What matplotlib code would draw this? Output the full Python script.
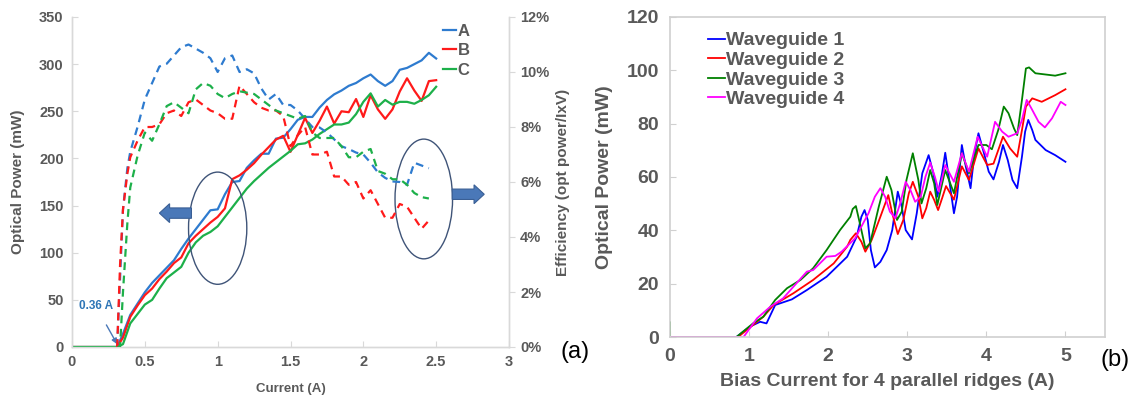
import matplotlib
matplotlib.use("Agg")
import matplotlib.pyplot as plt
from matplotlib.patches import Ellipse, FancyArrow

plt.rcParams['font.family'] = ['Liberation Sans', 'DejaVu Sans']

GRAY = '#595959'

# ---------------- Panel (a) data ----------------
current_a = [0.00, 0.31, 0.35, 0.40, 0.45, 0.50, 0.55, 0.60, 0.65, 0.70, 0.75, 0.80, 0.85, 0.90,
             0.95, 1.00, 1.05, 1.10, 1.15, 1.20, 1.25, 1.30, 1.35, 1.40, 1.45, 1.50, 1.55, 1.60,
             1.65, 1.70, 1.75, 1.80, 1.85, 1.90, 1.95, 2.00, 2.05, 2.10, 2.15, 2.20, 2.25, 2.30,
             2.35, 2.40, 2.45, 2.50]
power_A = [0, 0, 14, 34, 46, 58, 68, 76, 84, 92, 104, 115, 125, 135, 145, 146, 162, 175, 176, 190,
           198, 205, 205, 221, 222, 231, 241, 244, 244, 254, 262, 268, 272, 277, 280, 285, 289, 282,
           277, 282, 294, 296, 300, 304, 312, 306]
power_B = [0, 0, 10, 32, 44, 55, 62, 72, 80, 89, 95, 110, 118, 125, 132, 138, 147, 178, 182, 188,
           195, 204, 212, 220, 224, 207, 225, 243, 227, 240, 255, 237, 250, 249, 263, 244, 267, 252,
           242, 252, 271, 285, 272, 261, 282, 283]
power_C = [0, 0, 3, 25, 35, 45, 50, 62, 73, 79, 85, 100, 111, 118, 122, 128, 138, 148, 158, 168,
           176, 183, 190, 196, 202, 208, 215, 216, 220, 226, 231, 236, 236, 238, 247, 260, 269, 255,
           262, 257, 260, 260, 258, 262, 267, 276]

eff_current = [0.31, 0.33, 0.35, 0.38, 0.40, 0.45, 0.50, 0.55, 0.60, 0.65, 0.70, 0.75, 0.80, 0.85,
               0.90, 0.95, 1.00, 1.05, 1.10, 1.15, 1.20, 1.25, 1.30, 1.35, 1.40, 1.45, 1.50, 1.55,
               1.60, 1.65, 1.70, 1.75, 1.80, 1.85, 1.90, 1.95, 2.00, 2.05, 2.10, 2.15, 2.20, 2.25,
               2.30, 2.35, 2.40, 2.45]
eff_A = [0, 2.5, 5.0, 6.5, 7.1,
         8.0, 9.0, 9.6, 10.2, 10.3, 10.6, 10.9, 11.0, 10.85, 10.7, 10.5, 10.0, 10.5, 10.6, 10.0,
         10.1, 9.95, 9.4, 9.0, 9.2, 8.8, 8.8, 8.6, 8.3, 8.0, 7.98, 7.8, 7.55, 7.3, 7.2,
         7.07, 7.0, 6.7, 6.35, 6.15, 6.02, 6.0, 5.9, 6.7, 6.6, 6.5]
eff_B = [0, 3.0, 5.0, 6.3, 6.9,
         7.5, 8.0, 8.0, 8.1, 8.5, 8.6, 8.4, 8.9, 9.0, 8.8, 8.6, 8.5, 8.3, 8.3, 9.5,
         9.2, 8.9, 8.7, 8.6, 8.6, 8.4, 7.3, 7.7, 8.0, 7.0, 7.0, 7.1, 6.2, 6.2, 5.9,
         6.0, 5.4, 5.7, 5.2, 4.7, 4.7, 5.2, 5.1, 4.7, 4.3, 4.6]
eff_C = [0, 0, 2.0, 4.5, 5.8,
         6.95, 7.8, 7.5, 8.1, 8.76, 8.9, 8.7, 8.5, 9.37, 9.6, 9.5, 9.2, 9.05, 9.2, 9.3,
         9.25, 9.2, 9.0, 8.8, 8.6, 8.5, 8.4, 8.3, 8.4, 7.8, 7.6, 7.6, 7.6, 7.3, 6.9,
         6.9, 7.1, 7.2, 6.4, 6.3, 6.1, 6.1, 5.9, 5.6, 5.45, 5.4]

labels_a = ['A', 'B', 'C']
colors_a = ['#2e7bcf', '#ff1a1a', '#1db04a']
xticks_a = [0, 0.5, 1, 1.5, 2, 2.5, 3]
xticklabels_a = ['0', '0.5', '1', '1.5', '2', '2.5', '3']
yticks_a = [0, 50, 100, 150, 200, 250, 300, 350]
yticks_eff = [0, 2, 4, 6, 8, 10, 12]

# ---------------- Panel (b) data ----------------
wg1_x = [0, 0.84, 1.01, 1.14, 1.22, 1.33, 1.54, 1.73, 1.98, 2.24, 2.36, 2.42, 2.46, 2.50, 2.54,
         2.59, 2.66, 2.74, 2.81, 2.88, 2.93, 2.98, 3.06, 3.12, 3.19, 3.27, 3.33, 3.38, 3.44, 3.48,
         3.53, 3.59, 3.63, 3.69, 3.74, 3.80, 3.85, 3.90, 3.97, 4.03, 4.09, 4.16, 4.21, 4.27, 4.33,
         4.39, 4.45, 4.49, 4.53, 4.58, 4.62, 4.75, 4.87, 5.0]
wg1_y = [0, 0, 3.9, 5.7, 5.1, 12, 14.1, 17.6, 22.6, 30.1, 37.6, 45.1, 47.6, 43.9, 32.6,
         26.1, 28.2, 32.6, 40.1, 54.5, 48.9, 40.1, 36.6, 46.4, 61.4, 68.2, 61.4, 52.6, 61.4, 69.1,
         58.9, 46.4, 52.6, 72, 63.9, 55.8, 68.9, 76.4, 68.9, 62, 59.1, 65.7, 72, 66.4, 58.9,
         55.8, 67.6, 77, 81.4, 77.6, 73.9, 70.1, 68.2, 65.7]
wg2_x = [0, 0.86, 1.05, 1.18, 1.31, 1.56, 1.81, 2.07, 2.24, 2.28, 2.35, 2.42, 2.47, 2.55, 2.66,
         2.76, 2.81, 2.88, 2.95, 3.02, 3.07, 3.14, 3.19, 3.24, 3.29, 3.34, 3.39, 3.44, 3.49, 3.59,
         3.69, 3.78, 3.90, 4.01, 4.09, 4.21, 4.30, 4.39, 4.45, 4.50, 4.58, 4.70, 4.87, 5.0]
wg2_y = [0, 0, 4.5, 7.6, 12, 16.4, 21.4, 27.6, 33.9, 36.4, 38.9, 35.7, 32, 36.4, 45.1,
         53.2, 46.4, 38.6, 43.9, 53.9, 58.2, 52.6, 44.5, 48.3, 54.5, 51.4, 47.6, 52, 56.6, 51.5,
         64, 58.9, 70.7, 64.5, 65, 75.1, 70.7, 67.6, 77.6, 86.4, 89.5, 88.2, 90.7, 92.9]
wg3_x = [0, 0, 0.84, 1.05, 1.18, 1.33, 1.48, 1.65, 1.81, 1.98, 2.15, 2.28, 2.31, 2.35, 2.41,
         2.47, 2.53, 2.64, 2.74, 2.80, 2.87, 2.93, 2.99, 3.07, 3.14, 3.18, 3.24, 3.29, 3.34, 3.38,
         3.48, 3.59, 3.69, 3.78, 3.90, 4.00, 4.07, 4.15, 4.22, 4.28, 4.35, 4.39, 4.45, 4.50, 4.54,
         4.62, 4.87, 5.0]
wg3_y = [5.5, 0, 0, 5.1, 7.6, 13.9, 18.3, 21.4, 25.8, 32.6, 40.1, 45.1, 48, 49.1, 41.4,
         33.3, 35.1, 48.9, 60.1, 55.1, 43.9, 47, 58.9, 68.9, 58.9, 50.1, 55.8, 62.6, 57.6, 49.5,
         62.6, 53.9, 68.9, 61.4, 72, 72, 70.4, 77.6, 86.4, 83.9, 78.2, 75.7, 88.9, 100.7, 101.1,
         98.9, 98, 98.9]
wg4_x = [0, 0.93, 1.10, 1.27, 1.43, 1.73, 1.81, 1.98, 2.09, 2.17, 2.34, 2.51, 2.59, 2.66, 2.72,
         2.78, 2.85, 2.91, 2.98, 3.04, 3.10, 3.17, 3.23, 3.29, 3.35, 3.40, 3.48, 3.59, 3.69, 3.78,
         3.89, 4.01, 4.11, 4.20, 4.28, 4.39, 4.45, 4.51, 4.57, 4.66, 4.74, 4.83, 4.94, 5.0]
wg4_y = [0, 0, 7, 11.4, 14.5, 24.5, 25.1, 30.1, 30.4, 32, 37, 46.4, 52.6, 55.8, 52.6,
         47, 44.5, 50.1, 58.2, 55.1, 50.7, 52.6, 60.1, 65.4, 60, 54.5, 64.5, 58.2, 68.9, 62,
         75.1, 67.6, 80.7, 77, 75.1, 76.4, 81.4, 88.9, 85.7, 80.7, 78.6, 82, 88.2, 87]
labels_b = ['Waveguide 1', 'Waveguide 2', 'Waveguide 3', 'Waveguide 4']
colors_b = ['#0000ff', '#ff0000', '#008000', '#ff00ff']
xticks_b = [0, 1, 2, 3, 4, 5]
yticks_b = [0, 20, 40, 60, 80, 100, 120]

# ---------------- Figure ----------------
fig = plt.figure(figsize=(11.35, 4.01), dpi=100)

# Panel (a)
ax = fig.add_axes([72/1135, 54/401, 437/1135, 330/401])
ax2 = ax.twinx()
for y, c, lab in zip([power_A, power_B, power_C], colors_a, labels_a):
    ax.plot(current_a, y, color=c, lw=1.6, label=lab, zorder=3)
for y, c in zip([eff_A, eff_B, eff_C], colors_a):
    ax2.plot(eff_current, y, color=c, lw=1.6, linestyle=(0, (3.5, 2.5)), zorder=3)

ax.set_xlim(0, 3)
ax.set_ylim(0, 350)
ax2.set_ylim(0, 12)
ax.set_xticks(xticks_a)
ax.set_xticklabels(xticklabels_a)
ax.set_yticks(yticks_a)
ax2.set_yticks(yticks_eff)
ax2.set_yticklabels([f'{v}%' for v in yticks_eff])

for a in (ax, ax2):
    for s in a.spines.values():
        s.set_color('#d9d9d9')
        s.set_linewidth(1.0)
    a.spines['top'].set_visible(False)
ax.tick_params(axis='both', direction='in', length=4, color='#d9d9d9',
               labelsize=10.5, labelcolor=GRAY, pad=6)
ax2.tick_params(axis='y', direction='out', length=4, color='#d9d9d9',
                labelsize=10.5, labelcolor=GRAY, pad=4)
for lbl in ax.get_xticklabels() + ax.get_yticklabels() + ax2.get_yticklabels():
    lbl.set_fontweight('bold')

ax.set_xlabel('Current (A)', fontsize=9.5, fontweight='bold', color=GRAY, labelpad=10)
ax.set_ylabel('Optical Power (mW)', fontsize=11, fontweight='bold', color=GRAY, labelpad=10)
ax2.set_ylabel('Efficiency (opt power/IxV)', fontsize=11, fontweight='bold', color=GRAY,
               labelpad=5)

leg = ax.legend(loc='upper right', bbox_to_anchor=(0.925, 1.0), frameon=False,
                fontsize=12, handlelength=0.8, handletextpad=0.1, labelspacing=0.28,
                borderaxespad=0.0)
for t in leg.get_texts():
    t.set_color(GRAY)
    t.set_fontweight('bold')

# annotations (ellipses, block arrows, threshold label)
ax.add_patch(Ellipse((1.0, 126), 0.40, 119, fill=False, edgecolor='#3f5478', lw=1.0, zorder=4))
ax.add_patch(Ellipse((2.415, 157), 0.395, 127, fill=False, edgecolor='#3f5478', lw=1.0, zorder=4))
ax.add_patch(FancyArrow(0.82, 142, -0.22, 0, width=11, head_width=20, head_length=0.07,
                        length_includes_head=True, facecolor='#4a78b8', edgecolor='#3a5f95',
                        lw=0.8, zorder=4))
ax.add_patch(FancyArrow(2.61, 162, 0.22, 0, width=11, head_width=20, head_length=0.07,
                        length_includes_head=True, facecolor='#4a78b8', edgecolor='#3a5f95',
                        lw=0.8, zorder=4))
ax.annotate('0.36 A', xy=(0.31, 3), xytext=(0.165, 43), color='#2e75b6', fontsize=8.5,
            fontweight='bold', ha='center', va='center',
            arrowprops=dict(arrowstyle='-|>', color='#4a78b8', lw=1.0, mutation_scale=8,
                            shrinkA=8, shrinkB=0))

# Panel (b)
bx = fig.add_axes([670/1135, 64/401, 435/1135, 320/401])
for xs, ys, c, lab in zip([wg1_x, wg2_x, wg3_x, wg4_x], [wg1_y, wg2_y, wg3_y, wg4_y],
                          colors_b, labels_b):
    bx.plot(xs, ys, color=c, lw=1.3, label=lab, solid_joinstyle='round')
bx.set_xlim(0, 5.5)
bx.set_ylim(0, 120)
bx.set_xticks(xticks_b)
bx.set_yticks(yticks_b)
for s in bx.spines.values():
    s.set_color('#d0d0d0')
    s.set_linewidth(1.2)
bx.tick_params(axis='both', direction='in', length=4, color='#d0d0d0',
               labelsize=14, labelcolor=GRAY, pad=8)
for lbl in bx.get_xticklabels() + bx.get_yticklabels():
    lbl.set_fontweight('bold')
bx.set_xlabel('Bias Current for 4 parallel ridges (A)', fontsize=14, fontweight='bold',
              color=GRAY, labelpad=6)
bx.set_ylabel('Optical Power (mW)', fontsize=14, fontweight='bold', color=GRAY, labelpad=10)
leg2 = bx.legend(loc='upper left', bbox_to_anchor=(0.06, 0.99), frameon=False, fontsize=14,
                 handlelength=0.9, handletextpad=0.05, labelspacing=0.1, borderaxespad=0.2)
for t in leg2.get_texts():
    t.set_color(GRAY)
    t.set_fontweight('bold')

fig.text(575/1135, 1 - 352/401, '(a)', fontsize=17, color='black', ha='center', va='center')
fig.text(1115/1135, 1 - 360/401, '(b)', fontsize=17, color='black', ha='center', va='center')

fig.savefig('out.png', dpi=100)
